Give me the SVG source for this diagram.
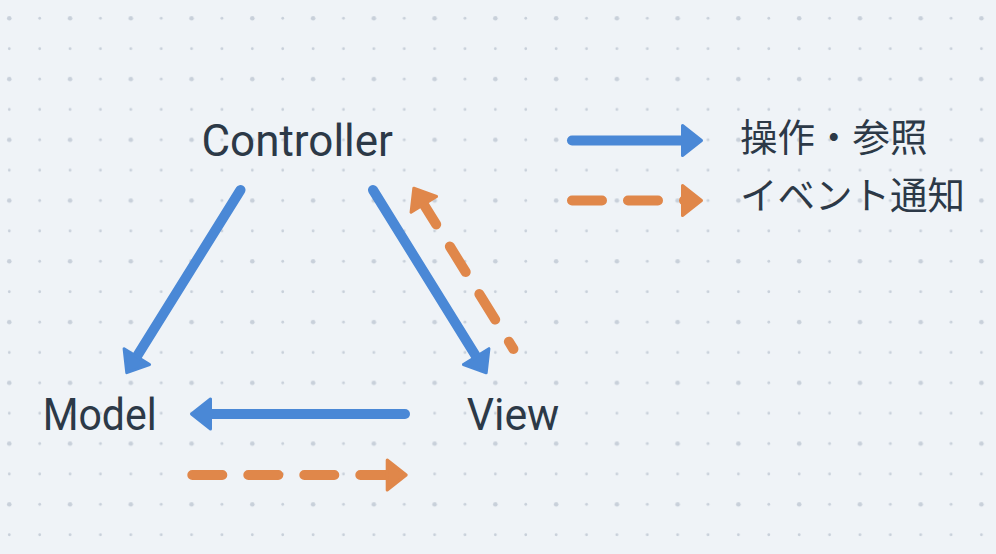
<svg xmlns="http://www.w3.org/2000/svg" width="996" height="554" viewBox="0 0 996 554">
  <style>
    .lbl { font-family: Roboto, "Liberation Sans", sans-serif; font-size: 44px; font-weight: 400; fill: #2c3947; }
    .jp { font-family: "Noto Sans CJK JP", "Noto Sans", sans-serif; font-size: 37.5px; font-weight: 400; fill: #2c3947; }
    .ref { fill: none; stroke: #4a88d6; stroke-width: 10; stroke-linecap: round; }
    .evt { fill: none; stroke: #e0874a; stroke-width: 10; stroke-linecap: round; stroke-dasharray: 30 26; }
  </style>
  <defs>
    <pattern id="dots" patternUnits="userSpaceOnUse" x="-5.89" y="3.11" width="60.76" height="60.76">
      <circle cx="15.19" cy="15.19" r="2.3" fill="#c8d0da"/>
      <circle cx="45.57" cy="15.19" r="1.4" fill="#c8d0da"/>
      <circle cx="15.19" cy="45.57" r="1.4" fill="#c8d0da"/>
      <circle cx="45.57" cy="45.57" r="1.4" fill="#c8d0da"/>
    </pattern>
    <marker id="headBlue" markerUnits="userSpaceOnUse" viewBox="-4 -20 32 40" markerWidth="32" markerHeight="40" refX="4" refY="0" orient="auto-start-reverse">
      <path d="M1.5,-15 L20.5,0 L1.5,15 Z" fill="#4a88d6" stroke="#4a88d6" stroke-width="3" stroke-linejoin="round"/>
    </marker>
    <marker id="headOrange" markerUnits="userSpaceOnUse" viewBox="-4 -20 32 40" markerWidth="32" markerHeight="40" refX="4" refY="0" orient="auto-start-reverse">
      <path d="M1.5,-15 L20.5,0 L1.5,15 Z" fill="#e0874a" stroke="#e0874a" stroke-width="3" stroke-linejoin="round"/>
    </marker>
  </defs>
  <rect width="996" height="554" fill="#eff3f7"/>
  <rect width="996" height="554" fill="url(#dots)"/>

  <g id="connectors">
    <line class="ref" x1="240.5" y1="190" x2="135.5" y2="358.7" marker-end="url(#headBlue)"/>
    <line class="ref" x1="373" y1="190" x2="477.5" y2="358.7" marker-end="url(#headBlue)"/>
    <line class="ref" x1="405" y1="414" x2="208" y2="414" marker-end="url(#headBlue)"/>
    <line class="evt" x1="422.5" y1="202.3" x2="513.4" y2="349" stroke-dashoffset="4" marker-start="url(#headOrange)"/>
    <line class="evt" x1="192.3" y1="475" x2="389.7" y2="475" marker-end="url(#headOrange)"/>
  </g>

  <g id="controller">
    <text class="lbl" x="201.5" y="155.7" textLength="191.5" lengthAdjust="spacingAndGlyphs">Controller</text>
  </g>
  <g id="model">
    <text class="lbl" x="42.7" y="430" textLength="114" lengthAdjust="spacingAndGlyphs">Model</text>
  </g>
  <g id="view">
    <text class="lbl" x="466.7" y="430" textLength="92.6" lengthAdjust="spacingAndGlyphs">View</text>
  </g>

  <g id="legend">
    <line class="ref" x1="572" y1="140.5" x2="685" y2="140.5" marker-end="url(#headBlue)"/>
    <text class="jp" x="740" y="150.8">操作・参照</text>
    <line class="evt" x1="572" y1="200.5" x2="685" y2="200.5" marker-end="url(#headOrange)"/>
    <text class="jp" x="740" y="209">イベント通知</text>
  </g>
</svg>
